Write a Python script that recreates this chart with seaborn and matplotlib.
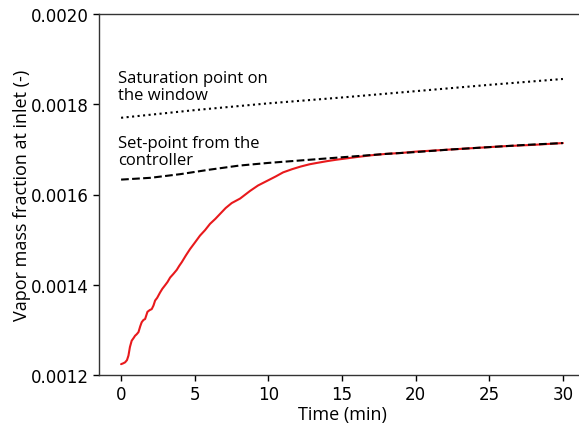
import numpy as np
import pandas as pd
import matplotlib
matplotlib.use('Agg')
import matplotlib.pyplot as plt
import seaborn as sns

# Measured vapor mass fraction at inlet (red, noisy/stepped)
t_meas = [0.0, 0.15, 0.27, 0.4, 0.5, 0.6, 0.72, 0.85, 0.95, 1.05, 1.18, 1.3, 1.4, 1.52, 1.63,
          1.72, 1.79, 1.95, 2.08, 2.2, 2.31, 2.45, 2.65, 2.8, 2.99, 3.15, 3.33, 3.55, 3.78,
          3.95, 4.12, 4.4, 4.68, 5.0, 5.36, 5.7, 6.04, 6.4, 6.72, 7.1, 7.51, 8.08, 8.76,
          9.3, 9.9, 10.5, 11.0, 11.6, 12.2, 12.8, 13.3, 14.0, 14.6, 15.3, 16.0, 17.0, 18.0,
          19.0, 20.0, 22.0, 24.0, 26.0, 28.0, 30.0]
y_meas = [0.001224, 0.001226, 0.001228, 0.001233, 0.001243, 0.001262, 0.001276, 0.001282,
          0.001287, 0.00129, 0.001295, 0.001308, 0.001317, 0.001322, 0.001324, 0.001333,
          0.00134, 0.001344, 0.001346, 0.001354, 0.001365, 0.001371, 0.001383, 0.001391,
          0.001399, 0.001406, 0.001416, 0.001424, 0.001433, 0.001442, 0.00145, 0.001465,
          0.001479, 0.001493, 0.001509, 0.001521, 0.001535, 0.001546, 0.001557, 0.00157,
          0.001581, 0.001591, 0.001608, 0.00162, 0.00163, 0.00164, 0.001649, 0.001656,
          0.001662, 0.001667, 0.00167, 0.001674, 0.001677, 0.00168, 0.001683, 0.001687,
          0.00169, 0.001692, 0.001695, 0.001699, 0.001703, 0.001707, 0.00171, 0.001714]

# Set-point from the controller (dashed)
t_set = [0, 2, 4, 6, 8, 10, 12, 14, 16, 18, 20, 22.5, 25, 27.5, 30]
y_set = [0.001633, 0.001637, 0.001645, 0.001655, 0.001664, 0.00167, 0.001675, 0.00168,
         0.001685, 0.00169, 0.001694, 0.0017, 0.001705, 0.00171, 0.001714]

# Saturation point on the window (dotted)
t_sat = [0, 5, 10, 15, 20, 25, 30]
y_sat = [0.00177, 0.001787, 0.001802, 0.001815, 0.001829, 0.001843, 0.001856]

meas_df = pd.DataFrame({'t': t_meas, 'y': y_meas})
set_df = pd.DataFrame({'t': t_set, 'y': y_set})
sat_df = pd.DataFrame({'t': t_sat, 'y': y_sat})

sns.set_theme(style='ticks')
plt.rcParams['font.family'] = ['DejaVu Sans']
plt.rcParams['text.color'] = 'black'
plt.rcParams['axes.labelcolor'] = 'black'

fig = plt.figure(figsize=(5.79, 4.27), dpi=100)
ax = fig.add_axes([99 / 579, 1 - 376 / 427, 486 / 579, 361 / 427])

sns.lineplot(data=meas_df, x='t', y='y', color='#e8191c', linewidth=1.5,
             sort=False, estimator=None, ax=ax)
sns.lineplot(data=set_df, x='t', y='y', color='black', linewidth=1.5,
             linestyle='--', sort=False, estimator=None, ax=ax)
sns.lineplot(data=sat_df, x='t', y='y', color='black', linewidth=1.5,
             linestyle=':', sort=False, estimator=None, ax=ax)

ax.text(-0.2, 0.001877, 'Saturation point on\nthe window', ha='left', va='top',
        fontsize=12, family='Open Sans', linespacing=1.1, color='black')
ax.text(-0.2, 0.001732, 'Set-point from the\ncontroller', ha='left', va='top',
        fontsize=12, family='Open Sans', linespacing=1.1, color='black')

ax.set_xlim(-1.5, 31.5)
ax.set_ylim(0.0012, 0.0020)
ax.set_xticks([0, 5, 10, 15, 20, 25, 30])
ax.set_yticks([0.0012, 0.0014, 0.0016, 0.0018, 0.0020])
ax.set_yticklabels(['0.0012', '0.0014', '0.0016', '0.0018', '0.0020'])
ax.tick_params(labelsize=12, colors='black', length=4, width=1)
ax.set_xlabel('Time (min)', fontsize=13, family='Open Sans', labelpad=1)
ax.set_ylabel('Vapor mass fraction at inlet (-)', fontsize=13, family='Open Sans', labelpad=0)

for side in ['left', 'bottom', 'top', 'right']:
    ax.spines[side].set_visible(True)
    ax.spines[side].set_color('#333333')
    ax.spines[side].set_linewidth(1)

fig.savefig('out.png', dpi=100)
